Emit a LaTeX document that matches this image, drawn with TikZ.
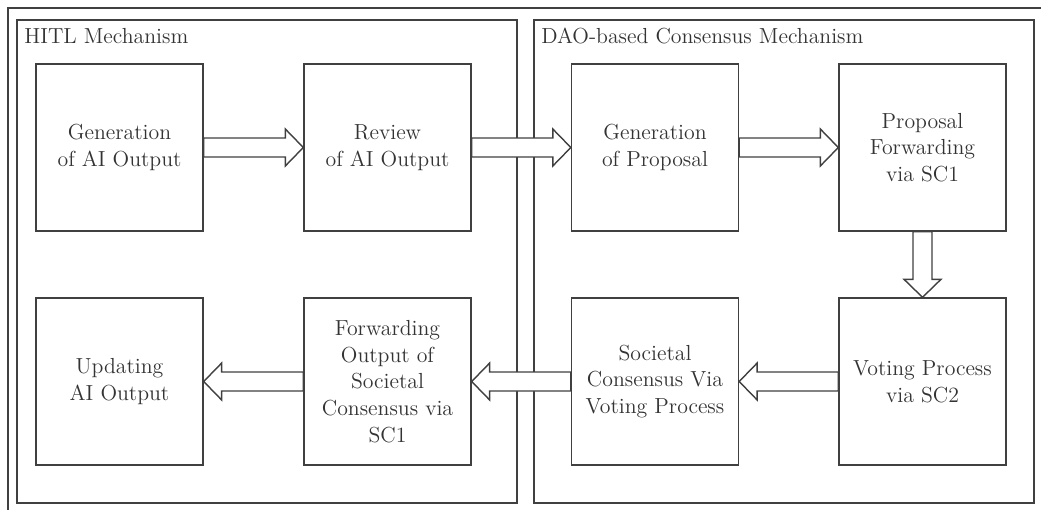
\documentclass[tikz,border=0pt]{standalone}
\usetikzlibrary{calc}

\newcommand{\blockarrow}[2]{%
  \coordinate (hb) at ($(#2)!0.36cm!(#1)$);
  \draw[flow] ($(#1)!0.19cm!90:(#2)$) -- ($(hb)!0.19cm!90:(#2)$) -- ($(hb)!0.37cm!90:(#2)$) -- (#2)
    -- ($(hb)!0.37cm!-90:(#2)$) -- ($(hb)!0.19cm!-90:(#2)$) -- ($(#1)!0.19cm!-90:(#2)$) -- cycle;}

\begin{document}
\begin{tikzpicture}[x=0.02cm,y=-0.02cm,
    every node/.style={text=black!80,font=\fontsize{12.4}{15.2}\selectfont},
    frame/.style={draw=black!75,line width=0.8pt},
    stage/.style={frame,minimum size=3.34cm,inner sep=0pt,align=center},
    flow/.style={draw=black!75,line width=0.8pt,fill=white}]
    \useasboundingbox (0,0) rectangle (1041,510);

    % outer frame, cut by the page edge
    \draw[frame] (8,510)--(8,8)--(1041,8);
    \draw[frame] (17,20) rectangle (517,503);
    \draw[frame] (534,20) rectangle (1034,503);
    \node[anchor=base west,inner sep=0pt] (hitl) at (24,44) {HITL Mechanism};
    \node[anchor=base west,inner sep=0pt] (dao) at (541,44) {DAO-based Consensus Mechanism};

    \node[stage] (genout) at (119.5,147.5) {Generation\\of AI Output};
    \node[stage] (review) at (387.5,147.5) {Review\\of AI Output};
    \node[stage] (genprop) at (655,147.5) {Generation\\of Proposal};
    \node[stage] (propfwd) at (922.5,147.5) {Proposal\\Forwarding\\via SC1};
    \node[stage] (voting) at (922.5,381.5) {Voting Process\\via SC2};
    \node[stage] (societal) at (655,381.5) {Societal\\Consensus Via\\Voting Process};
    \node[stage] (fwdout) at (387.5,381.5) {Forwarding\\Output of\\Societal\\Consensus via\\SC1};
    \node[stage] (update) at (119.5,381.5) {Updating\\AI Output};

    \blockarrow{genout.east}{review.west}
    \blockarrow{review.east}{genprop.west}
    \blockarrow{genprop.east}{propfwd.west}
    \blockarrow{propfwd.south}{voting.north}
    \blockarrow{voting.west}{societal.east}
    \blockarrow{societal.west}{fwdout.east}
    \blockarrow{fwdout.west}{update.east}

\end{tikzpicture}
\end{document}
